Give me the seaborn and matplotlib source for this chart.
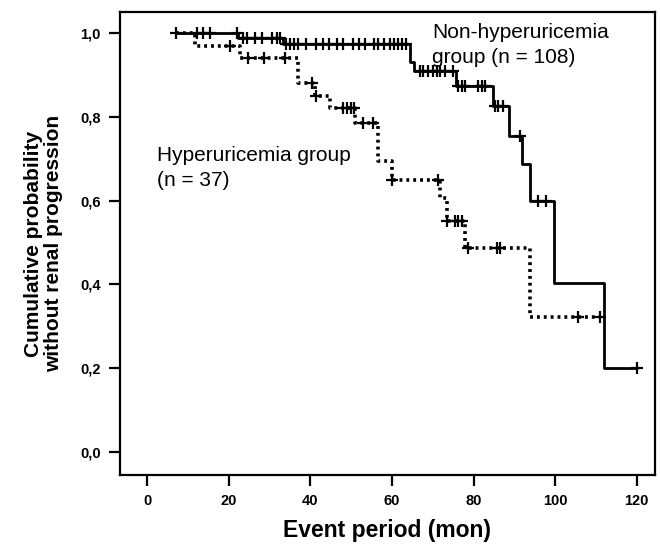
import numpy as np
import pandas as pd
import matplotlib
matplotlib.use("Agg")
import matplotlib.pyplot as plt
import seaborn as sns

# Kaplan-Meier steps (time in months, survival)
non_times = [7, 22.3, 33.3, 64.4, 65.3, 75.6, 84.8, 88.7, 91.8, 93.8, 99.8, 111.9, 120]
non_surv = [1.0, 0.988, 0.974, 0.93, 0.91, 0.874, 0.826, 0.755, 0.688, 0.60, 0.402, 0.20, 0.20]
non_censor = [7, 12.2, 13.7, 15.4, 22.0, 23.5, 24.5, 26.5, 28.2, 30.6, 31.8, 32.6,
              34.0, 35.0, 36.0, 37.0, 39.0, 41.5, 43.0, 44.5, 46.5, 48.0, 50.5, 52.0,
              53.5, 55.5, 56.5, 58.0, 59.5, 60.5, 61.5, 62.5, 63.5,
              66.9, 67.6, 68.8, 70.0, 71.0, 71.7, 73.0, 75.0,
              76.2, 77.1, 77.9, 81.1, 82.0, 82.8,
              85.2, 86.0, 87.2, 91.5, 95.8, 97.7, 120]

hyp_times = [7, 11.8, 22.8, 37.0, 41.1, 44.8, 51.0, 56.5, 60.0, 71.8, 73.5, 77.9, 93.8, 111]
hyp_surv = [1.0, 0.969, 0.94, 0.88, 0.85, 0.821, 0.786, 0.695, 0.65, 0.605, 0.552, 0.486, 0.321, 0.321]
hyp_censor = [20.3, 24.8, 28.6, 33.8, 40.5, 41.5, 48.0, 49.0, 50.0, 50.7, 52.9, 55.3,
              60.0, 71.3, 73.5, 75.4, 76.2, 77.1, 78.6, 85.7, 86.5, 105.6, 111]

x_ticks = [0, 20, 40, 60, 80, 100, 120]
y_ticks = [0.0, 0.2, 0.4, 0.6, 0.8, 1.0]
y_tick_labels = ["0,0", "0,2", "0,4", "0,6", "0,8", "1,0"]


def at_time(times, surv, pts):
    idx = np.searchsorted(times, pts, side="right") - 1
    return np.asarray(surv)[idx]


sns.set_style("ticks")
plt.rcParams["font.family"] = ["Liberation Sans", "DejaVu Sans"]
plt.rcParams["text.color"] = "black"
plt.rcParams["axes.labelcolor"] = "black"
plt.rcParams["xtick.color"] = "black"
plt.rcParams["ytick.color"] = "black"
plt.rcParams["axes.edgecolor"] = "black"

fig = plt.figure(figsize=(6.6, 5.49), dpi=100)
ax = fig.add_axes([0.182, 0.135, 0.81, 0.843])

sns.lineplot(x=non_times, y=non_surv, drawstyle="steps-post", estimator=None,
             color="black", linewidth=2, ax=ax)
sns.lineplot(x=hyp_times, y=hyp_surv, drawstyle="steps-post", estimator=None,
             color="black", linewidth=2.6, linestyle=(0, (0.8, 1.1)), ax=ax)

sns.scatterplot(x=non_censor, y=at_time(non_times, non_surv, non_censor),
                marker="+", s=75, linewidth=1.6, color="black", ax=ax, zorder=5)
sns.scatterplot(x=hyp_censor, y=at_time(hyp_times, hyp_surv, hyp_censor),
                marker="+", s=75, linewidth=1.6, color="black", ax=ax, zorder=5)

ax.text(69.8, 1.025, "Non-hyperuricemia\ngroup (n = 108)", fontsize=15,
        va="top", ha="left", linespacing=1.4)
ax.text(2.5, 0.73, "Hyperuricemia group\n(n = 37)", fontsize=15,
        va="top", ha="left", linespacing=1.4)

ax.set_xlim(-6.6, 124.4)
ax.set_ylim(-0.055, 1.05)
ax.set_xticks(x_ticks)
ax.set_yticks(y_ticks)
ax.set_yticklabels(y_tick_labels)
ax.tick_params(axis="both", direction="out", length=8, width=1.6,
               labelsize=10.5, pad=6)
for lab in ax.get_xticklabels() + ax.get_yticklabels():
    lab.set_fontweight("bold")
for sp in ax.spines.values():
    sp.set_visible(True)
    sp.set_linewidth(1.6)

ax.set_xlabel("Event period (mon)", fontsize=16.5, fontweight="bold", labelpad=8)
ax.set_ylabel("Cumulative probability\nwithout renal progression", fontsize=15,
              fontweight="bold", labelpad=12, linespacing=1.1)

fig.savefig("out.png", dpi=100)
